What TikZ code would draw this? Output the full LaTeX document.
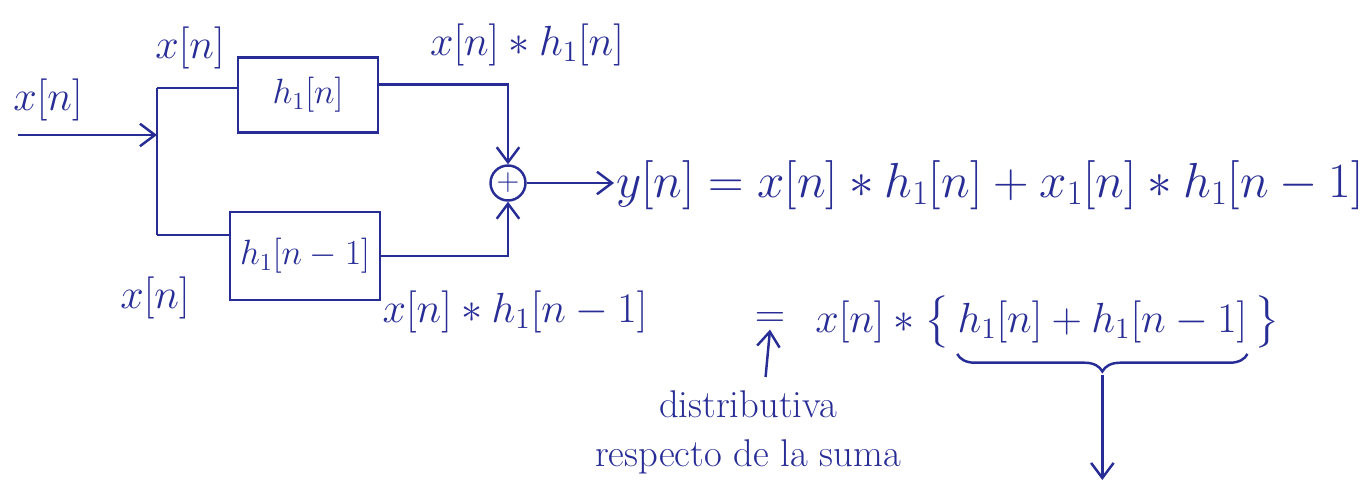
\RequirePackage{fix-cm}
\documentclass[tikz,border=0pt]{standalone}
\usepackage{amsmath}
\usepackage{tikz}
\usetikzlibrary{positioning,arrows.meta,decorations.pathreplacing}
\definecolor{ink}{RGB}{40,45,150}

\begin{document}
\begin{tikzpicture}[x=0.02cm, y=-0.02cm,
  every node/.style={text=ink},
  wire/.style={draw=ink, line width=1.4pt},
  arr/.style={wire, -{Straight Barb[length=3mm,width=4.5mm]}},
  blk/.style={draw=ink, line width=1.4pt, minimum width=2.8cm, minimum height=1.5cm, font=\fontsize{20}{24}\selectfont},
  sig/.style={font=\fontsize{24}{28}\selectfont, inner sep=1pt},
  addr/.style={circle, draw=ink, line width=1.4pt, minimum size=0.7cm, inner sep=0pt, font=\fontsize{18}{20}\selectfont},
  note/.style={font=\fontsize{22}{28}\selectfont, align=center}
]
\useasboundingbox (0,0) rectangle (1372,492);

% input and split
\node[sig] (xin) at (48,100) {$x[n]$};
\coordinate (src) at (18,135);
\coordinate (ptop) at (157,88);
\coordinate (pbot) at (157,235);

% the two systems in parallel
\node[blk] (h1) at (308,95) {$h_1[n]$};
\node[blk, minimum width=3cm, minimum height=1.76cm] (h2) at (305,256) {$h_1[n-1]$};
\node[sig] (xtop) at (190,48) {$x[n]$};
\node[sig] (xbot) at (155,298) {$x[n]$};

% adder
\node[addr] (add) at (508,183) {$+$};
\node[sig] (p1) at (527,45) {$x[n]\ast h_1[n]$};
\node[sig] (p2) at (515,312) {$x[n]\ast h_1[n-1]$};

% output equations
\node[sig, font=\fontsize{28}{32}\selectfont, anchor=west] (yout) at (614,185)
  {$y[n] = x[n]\ast h_1[n] + x_1[n]\ast h_1[n-1]$};
\node[sig] (eqs) at (770,320) {$=$};
\node[sig, anchor=west, inner sep=0pt] (lhs) at (815,322) {$x[n]\ast\big\{\,$};
\node[sig, anchor=base west, inner sep=0pt] (hs) at (lhs.base east) {$h_1[n] + h_1[n-1]$};
\node[sig, anchor=base west, inner sep=0pt] (rb) at (hs.base east) {$\,\big\}$};
\coordinate (dn) at (1140,480);

\node[note] (dist) at (748,432) {distributiva\\respecto de la suma};

\draw[arr] (src) -- (src -| ptop);
\draw[wire] (ptop) -- (pbot);
\draw[wire] (ptop) -- (ptop -| h1.west);
\draw[wire] (pbot) -- (pbot -| h2.west);
\draw[arr] ([yshift=6pt]h1.east) -| (add.north);
\draw[arr] (h2.east) -| (add.south);
\draw[arr] (add.east) -- (add.east -| yout.west);

\draw[wire, decorate, decoration={brace, mirror, amplitude=10pt}]
  ([yshift=-6pt]hs.south west) -- ([yshift=-6pt]hs.south east);
\draw[arr] ([yshift=-18pt]hs.south) -- (hs.south |- dn);
\draw[arr] ([xshift=10pt,yshift=4pt]dist.north) -- (eqs.south);

\end{tikzpicture}
\end{document}
